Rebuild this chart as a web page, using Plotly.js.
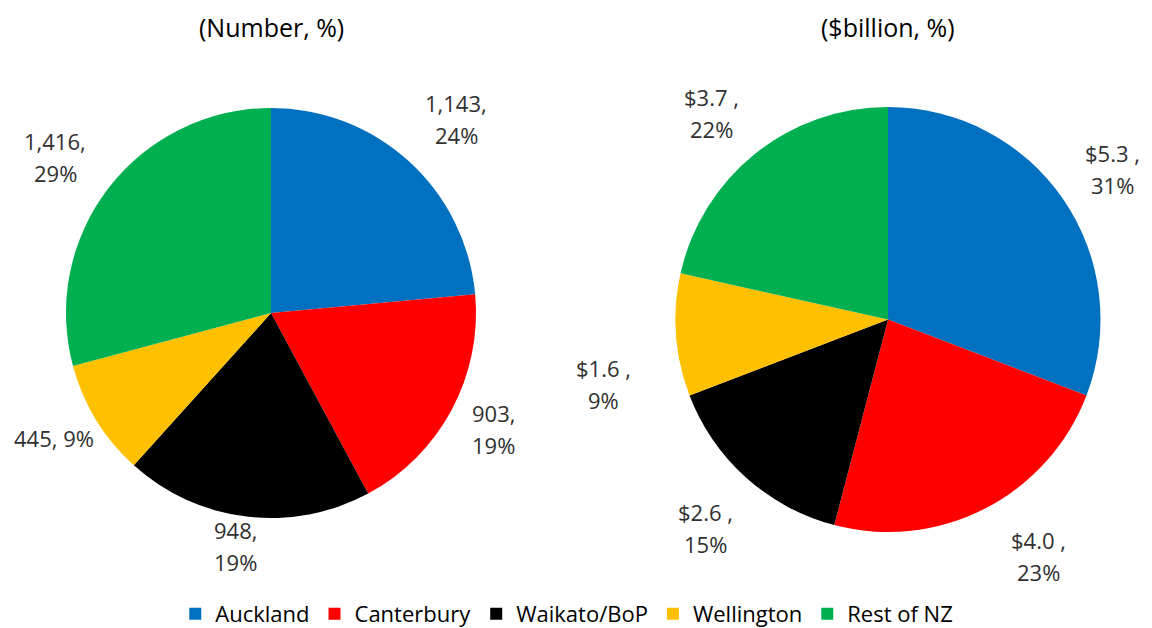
<!DOCTYPE html>
<html>
<head>
<meta charset="utf-8">
<script src="https://cdn.plot.ly/plotly-3.0.1.min.js"></script>
<style>html,body{margin:0;padding:0;background:#fff;}#chart{width:1152px;height:628px;}</style>
</head>
<body>
<div id="chart"></div>
<script>
// ---- data ----
const regions = ["Auckland", "Canterbury", "Waikato/BoP", "Wellington", "Rest of NZ"];
const colors = ["#0070C0", "#FF0000", "#000000", "#FFC000", "#00B050"];
const countValues = [1143, 903, 948, 445, 1416];
const countPercents = [24, 19, 19, 9, 29];
const valueBillions = [5.3, 4.0, 2.6, 1.6, 3.7];
const valuePercents = [31, 23, 15, 9, 22];
const leftTitle = "(Number, %)";
const rightTitle = "($billion, %)";

// ---- label placement (layout only, pixel centres) ----
const leftLabelPos = [[456, 103], [493, 413], [235, 530], [54, 438], [55, 141]];
const rightLabelPos = [[1112, 153], [1038, 540], [705, 512], [603, 368], [711, 97]];
const lineGap = 32;
const W = 1152, H = 628;

const fmt = n => n.toLocaleString("en-US");
const leftLines = countValues.map((v, i) => i === 3 ? [fmt(v) + ", " + countPercents[i] + "%"] : [fmt(v) + ",", countPercents[i] + "%"]);
const rightLines = valueBillions.map((v, i) => ["$" + v.toFixed(1) + " ,", valuePercents[i] + "%"]);

const labelFont = {family: "Open Sans, sans-serif", size: 22, color: "#303030"};
const annotations = [];
function addLabels(lines, pos) {
  lines.forEach((ls, i) => {
    ls.forEach((t, j) => {
      annotations.push({
        xref: "paper", yref: "paper",
        x: pos[i][0] / W, y: 1 - (pos[i][1] + j * lineGap) / H,
        xanchor: "center", yanchor: "middle",
        text: t, showarrow: false, font: labelFont
      });
    });
  });
}
addLabels(leftLines, leftLabelPos);
addLabels(rightLines, rightLabelPos);
const titleFont = {family: "Open Sans, sans-serif", size: 25, color: "#000"};
annotations.push({xref: "paper", yref: "paper", x: 271 / W, y: 1 - 27 / H, xanchor: "center", yanchor: "middle", text: leftTitle, showarrow: false, font: titleFont});
annotations.push({xref: "paper", yref: "paper", x: 888 / W, y: 1 - 27 / H, xanchor: "center", yanchor: "middle", text: rightTitle, showarrow: false, font: titleFont});

const pieCommon = {
  type: "pie", labels: regions, sort: false, direction: "clockwise", rotation: 0,
  marker: {colors: colors, line: {width: 0}}, textinfo: "none", hoverinfo: "label+value+percent"
};
const traces = [
  Object.assign({}, pieCommon, {values: countValues, domain: {x: [66 / W, 476 / W], y: [1 - 518 / H, 1 - 108 / H]}, name: "Number"}),
  Object.assign({}, pieCommon, {values: valueBillions, domain: {x: [675 / W, 1101 / W], y: [1 - 532 / H, 1 - 107 / H]}, name: "$billion", showlegend: false})
];

const layout = {
  width: W, height: H,
  margin: {l: 0, r: 0, t: 0, b: 0, autoexpand: false},
  paper_bgcolor: "#fff",
  showlegend: true,
  legend: {orientation: "h", x: 0.492, xanchor: "center", y: 1 - 614 / H, yanchor: "middle",
    font: {family: "Open Sans, sans-serif", size: 22, color: "#000"}, itemwidth: 30, tracegroupgap: 0},
  annotations: annotations
};
Plotly.newPlot("chart", traces, layout, {displayModeBar: false, staticPlot: true});
</script>
</body>
</html>
